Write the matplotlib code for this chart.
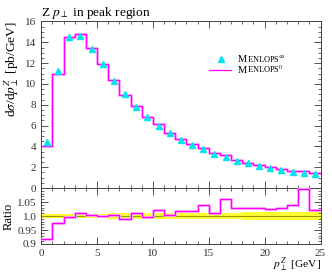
import matplotlib
matplotlib.use("Agg")
import matplotlib.pyplot as plt
from matplotlib.ticker import MultipleLocator, FuncFormatter
import numpy as np

plt.rcParams['font.family'] = ['Liberation Serif', 'DejaVu Serif']
plt.rcParams['mathtext.fontset'] = 'stix'

# bins in p_T^Z [GeV]
bin_edges = list(range(0, 26))

# MENLOPS^inf (triangles) and MENLOPS^0 (histogram), pb/GeV
menlops_inf = [4.40, 11.25, 14.50, 14.62, 13.40, 11.92, 10.30, 9.02, 7.82, 6.84,
               6.00, 5.28, 4.62, 4.14, 3.74, 3.30, 2.96, 2.64, 2.38, 2.16,
               1.96, 1.76, 1.54, 1.46, 1.37]
menlops_0 = [4.04, 10.96, 14.47, 14.76, 13.47, 11.92, 10.35, 8.91, 7.90, 6.81,
             6.13, 5.30, 4.71, 4.22, 3.89, 3.33, 3.14, 2.72, 2.45, 2.22,
             2.01, 1.81, 1.60, 1.60, 1.40]
# relative uncertainty of the reference (yellow band)
ref_relerr = [0.008, 0.008, 0.008, 0.008, 0.008, 0.008, 0.009, 0.009, 0.009, 0.010,
              0.010, 0.010, 0.011, 0.011, 0.011, 0.012, 0.012, 0.012, 0.013, 0.013,
              0.013, 0.014, 0.014, 0.015, 0.015]

edges = np.array(bin_edges, dtype=float)
centers = 0.5 * (edges[:-1] + edges[1:])
ref = np.array(menlops_inf)
mc = np.array(menlops_0)
ratio = mc / ref
err = np.array(ref_relerr)

W, H = 332, 272
fig = plt.figure(figsize=(W / 100, H / 100), dpi=100)
left, right = 41.3 / W, 320.5 / W
ax = fig.add_axes([left, (H - 188) / H, right - left, (188 - 21.5) / H])
axr = fig.add_axes([left, (H - 244) / H, right - left, 56 / H], sharex=ax)

def steps(vals):
    return np.append(vals, vals[-1])

# main panel
ax.step(edges, steps(mc), where='post', color='#ffb0ff', lw=2.0, zorder=2)
ax.step(edges, steps(mc), where='post', color='#ff00ff', lw=0.9, zorder=3)
ax.plot(centers, ref, ls='none', marker='^', ms=4.3, color='#00e5ee', mec='#00e5ee', zorder=4)
ax.set_xlim(0, 25)
ax.set_ylim(0, 16)

# ratio panel
axr.fill_between(edges, steps(1 - err), steps(1 + err), step='post', color='#ffff33', lw=0, zorder=1)
axr.axhline(1.0, color='#9a9a00', lw=0.8, zorder=2)
axr.step(edges, steps(ratio), where='post', color='#ffb0ff', lw=2.0, zorder=3)
axr.step(edges, steps(ratio), where='post', color='#ff00ff', lw=0.9, zorder=4)
axr.set_ylim(0.9, 1.1)

for a in (ax, axr):
    a.tick_params(which='both', direction='in', top=True, right=True, labelsize=8, colors='#333333')
    a.tick_params(which='major', length=5, width=0.6)
    a.tick_params(which='minor', length=2.5, width=0.5)
    a.xaxis.set_major_locator(MultipleLocator(5))
    a.xaxis.set_minor_locator(MultipleLocator(1))
    for s in a.spines.values():
        s.set_linewidth(0.7)
        s.set_color('#444444')

def ratio_fmt(v, pos):
    if v > 1.09:
        return ''
    if abs(v - round(v, 1)) < 1e-6:
        return f"{v:.1f}"
    return f"{v:.2f}"

ax.yaxis.set_major_locator(MultipleLocator(2))
ax.yaxis.set_minor_locator(MultipleLocator(0.5))
ax.tick_params(labelbottom=False)
axr.yaxis.set_major_locator(MultipleLocator(0.05))
axr.yaxis.set_minor_locator(MultipleLocator(0.01))
axr.yaxis.set_major_formatter(FuncFormatter(ratio_fmt))

ax.set_ylabel(r'd$\sigma$/d$p_\perp^Z$ [pb/GeV]', fontsize=9.6, loc='top')
ax.yaxis.set_label_coords(-0.074, 1.0)
axr.set_ylabel('Ratio', fontsize=9)
axr.yaxis.set_label_coords(-0.095, 0.5)
fig.text(right, (H - 267.5) / H, r'$p_\perp^Z$ [GeV]', fontsize=8.2, ha='right', va='baseline')
ax.set_title(r'Z $p_\perp$ in peak region', fontsize=9.6, loc='left', pad=4)

# legend with small-caps style labels
def smallcaps(x, y, sup):
    t1 = ax.text(x, y, 'M', fontsize=7.6, transform=ax.transAxes, va='center', ha='left')
    ax.annotate('ENLOPS' + sup, xy=(1, 0), xycoords=t1, va='bottom', ha='left', fontsize=6.0)

ax.plot([0.645], [1 - (58.7 - 21.5) / 166.5], transform=ax.transAxes, ls='none',
        marker='^', ms=4.3, color='#00e5ee', clip_on=False)
smallcaps(0.703, 1 - (59.5 - 21.5) / 166.5, r'$^{\infty}$')
ax.plot([0.600, 0.680], [1 - (70 - 21.5) / 166.5] * 2, transform=ax.transAxes,
        color='#ff00ff', lw=0.9, clip_on=False)
smallcaps(0.703, 1 - (70.5 - 21.5) / 166.5, r'$^{0}$')

fig.savefig('out.png', dpi=100)
